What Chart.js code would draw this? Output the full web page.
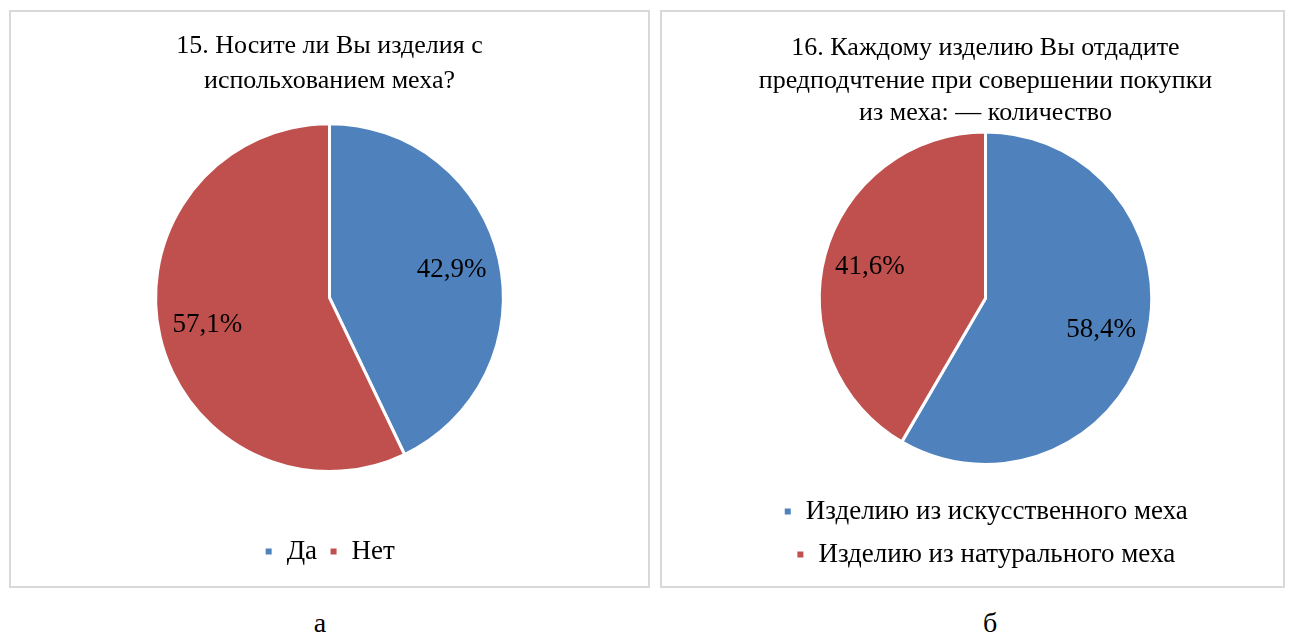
<!DOCTYPE html>
<html>
<head>
<meta charset="utf-8">
<script src="https://cdn.jsdelivr.net/npm/chart.js@4.4.1/dist/chart.umd.min.js"></script>
<style>
  body { margin: 0; background: #fff; width: 1292px; height: 634px; position: relative; font-family: "Liberation Serif", serif; }
  .panel { position: absolute; box-sizing: border-box; border: 2px solid #d9d9d9; background: #fff; }
  .panel canvas { display: block; }
  .cap { position: absolute; font-size: 28px; color: #000; transform: translateX(-50%); }
</style>
</head>
<body>
<div class="panel" style="left:9px; top:10px; width:641px; height:578px;"><canvas id="furChart"></canvas></div>
<div class="panel" style="left:660px; top:10px; width:625px; height:578px;"><canvas id="preferChart"></canvas></div>
<div class="cap" style="left:320px; top:607px;">а</div>
<div class="cap" style="left:990px; top:607px;">б</div>
<script>
// Data
const furLabels = ['Да', 'Нет'];
const furValues = [42.9, 57.1];
const preferLabels = ['Изделию из искусственного меха', 'Изделию из натурального меха'];
const preferValues = [58.4, 41.6];
const sliceColors = ['#4f81bd', '#c0504d'];

const serif = '"Liberation Serif", "Times New Roman", serif';

// percent labels inside slices (no datalabels plugin here)
const pctLabels = {
    id: 'pctLabels',
    afterDatasetsDraw(chart) {
        const ctx = chart.ctx;
        const meta = chart.getDatasetMeta(0);
        const data = chart.data.datasets[0].data;
        ctx.save();
        ctx.font = '27px ' + serif;
        ctx.fillStyle = '#000';
        ctx.textAlign = 'center';
        ctx.textBaseline = 'middle';
        meta.data.forEach((arc, i) => {
            const p = arc.getProps(['x', 'y', 'startAngle', 'endAngle', 'outerRadius'], true);
            const mid = (p.startAngle + p.endAngle) / 2;
            const r = p.outerRadius * 0.72;
            const txt = data[i].toFixed(1).replace('.', ',') + '%';
            ctx.fillText(txt, p.x + Math.cos(mid) * r, p.y + Math.sin(mid) * r);
        });
        ctx.restore();
    }
};

function makePie(id, labels, values, cfg) {
    return new Chart(document.getElementById(id).getContext('2d'), {
        type: 'pie',
        data: {
            labels: labels,
            datasets: [{
                data: values,
                backgroundColor: sliceColors,
                borderColor: '#ffffff',
                borderWidth: 3
            }]
        },
        options: {
            responsive: true,
            maintainAspectRatio: false,
            animation: false,
            layout: { padding: cfg.layoutPad },
            plugins: {
                title: {
                    display: true,
                    text: cfg.title,
                    color: '#000',
                    font: { family: serif, size: 26, weight: 'normal', lineHeight: cfg.titleLH },
                    padding: cfg.titlePad
                },
                legend: {
                    position: 'bottom',
                    // empty legend title used only as a spacer between pie and legend
                    title: { display: true, text: '', font: { size: 10, lineHeight: 1 }, padding: { top: cfg.legendGap, bottom: 0 } },
                    labels: {
                        color: '#000',
                        font: { family: serif, size: 27 },
                        boxWidth: 9,
                        boxHeight: 9,
                        padding: cfg.legendPad
                    }
                },
                tooltip: { enabled: false }
            }
        },
        plugins: [pctLabels]
    });
}

makePie('furChart', furLabels, furValues, {
    title: ['15. Носите ли Вы изделия с', 'испольхованием меха?'],
    titleLH: 1.35,
    titlePad: { top: 17, bottom: 23 },
    legendGap: 43,
    legendPad: 12,
    layoutPad: { bottom: 11 }
});

makePie('preferChart', preferLabels, preferValues, {
    title: ['16. Каждому изделию Вы отдадите', 'предподчтение при совершении покупки', 'из меха: — количество'],
    titleLH: 1.25,
    titlePad: { top: 20, bottom: 1 },
    legendGap: 6,
    legendPad: 16,
    layoutPad: { left: 26, bottom: 8 }
});
</script>
</body>
</html>
